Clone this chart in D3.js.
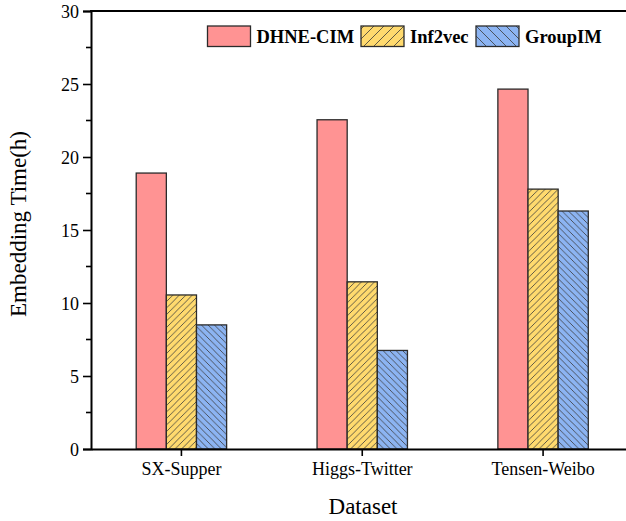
<!DOCTYPE html>
<html>
<head>
<meta charset="utf-8">
<script src="https://cdn.jsdelivr.net/npm/d3@7"></script>
<style>
  html, body { margin: 0; padding: 0; background: #fff; }
  svg { display: block; }
  text { font-family: "Liberation Serif", "Times New Roman", serif; fill: #000; }
</style>
</head>
<body>
<svg id="chart" width="626" height="521"></svg>
<script>
// Embedding time (hours) per dataset and method
const datasets = ["SX-Supper", "Higgs-Twitter", "Tensen-Weibo"];
const methods = ["DHNE-CIM", "Inf2vec", "GroupIM"];
const dhneCim = [18.9, 22.55, 24.65];
const inf2vec = [10.55, 11.45, 17.8];
const groupIm = [8.5, 6.75, 16.3];
const yTicks = [0, 5, 10, 15, 20, 25, 30];

const seriesValues = [dhneCim, inf2vec, groupIm];
const fills = ["#ff9393", "#ffda6e", "#8cb4f2"];
const hatch = [null, "fwd", "back"];

const svg = d3.select("#chart");
const plotLeft = 91, plotTop = 11, plotBottom = 449, plotRight = 633.5;

const x = d3.scaleBand().domain(datasets).range([plotLeft, plotRight]).padding(0);
const xInner = d3.scaleBand().domain(methods)
  .range([x.bandwidth() * 0.25, x.bandwidth() * 0.75]).padding(0);
const y = d3.scaleLinear().domain([0, 30]).range([plotBottom, plotTop]);

// hatch patterns
const defs = svg.append("defs");
function makePattern(id, dir, gap, color) {
  const p = defs.append("pattern").attr("id", id)
    .attr("patternUnits", "userSpaceOnUse")
    .attr("width", gap).attr("height", gap);
  p.append("rect").attr("width", gap).attr("height", gap).attr("fill", color);
  const d = dir === "fwd"
    ? `M0,${gap} L${gap},0 M${-gap / 2},${gap / 2} L${gap / 2},${-gap / 2} M${gap / 2},${gap * 1.5} L${gap * 1.5},${gap / 2}`
    : `M0,0 L${gap},${gap} M${-gap / 2},${gap / 2} L${gap / 2},${gap * 1.5} M${gap / 2},${-gap / 2} L${gap * 1.5},${gap / 2}`;
  p.append("path").attr("d", d).attr("stroke", "#3a3a3a").attr("stroke-width", 0.8).attr("fill", "none");
}
makePattern("hatch-fwd", "fwd", 6.5, fills[1]);
makePattern("hatch-back", "back", 6.5, fills[2]);
makePattern("leg-fwd", "fwd", 10, fills[1]);
makePattern("leg-back", "back", 10, fills[2]);

function fillFor(i, legend) {
  if (!hatch[i]) return fills[i];
  return `url(#${legend ? "leg" : "hatch"}-${hatch[i]})`;
}

// bars
methods.forEach((m, i) => {
  svg.append("g").selectAll("rect").data(datasets).join("rect")
    .attr("x", d => x(d) + xInner(m))
    .attr("width", xInner.bandwidth())
    .attr("y", (d, j) => y(seriesValues[i][j]))
    .attr("height", (d, j) => plotBottom - y(seriesValues[i][j]))
    .attr("fill", fillFor(i, false))
    .attr("stroke", "#2b2b2b").attr("stroke-width", 1.3);
});

// y axis
const yAxis = svg.append("g").attr("transform", `translate(${plotLeft},0)`)
  .call(d3.axisLeft(y).tickValues(yTicks).tickSize(8).tickPadding(4).tickFormat(d3.format("d")));
yAxis.attr("font-family", null).attr("font-size", null);
yAxis.select(".domain").attr("stroke", "#000").attr("stroke-width", 2);
yAxis.selectAll(".tick line").attr("stroke", "#000").attr("stroke-width", 1.6);
yAxis.selectAll("text").attr("font-size", 18).attr("dy", "0.35em");
// minor ticks
svg.append("g").selectAll("line").data(d3.range(2.5, 30, 5)).join("line")
  .attr("x1", plotLeft - 5).attr("x2", plotLeft)
  .attr("y1", d => y(d)).attr("y2", d => y(d))
  .attr("stroke", "#000").attr("stroke-width", 1.6);

// x axis
const xAxis = svg.append("g").attr("transform", `translate(0,${plotBottom})`)
  .call(d3.axisBottom(x).tickSize(7).tickPadding(6).tickSizeOuter(0));
xAxis.attr("font-family", null).attr("font-size", null);
xAxis.select(".domain").attr("stroke", "#000").attr("stroke-width", 2);
xAxis.selectAll(".tick line").attr("stroke", "#000").attr("stroke-width", 1.6);
xAxis.selectAll("text").attr("font-size", 18);

// top frame
svg.append("line").attr("x1", plotLeft - 1).attr("x2", 640).attr("y1", plotTop).attr("y2", plotTop)
  .attr("stroke", "#000").attr("stroke-width", 2);

// axis titles
svg.append("text").attr("x", 363).attr("y", 514).attr("text-anchor", "middle")
  .attr("font-size", 23).text("Dataset");
svg.append("text").attr("transform", `translate(26,224) rotate(-90)`)
  .attr("text-anchor", "middle").attr("font-size", 23).text("Embedding Time(h)");

// legend
const legendX = [207.5, 361, 476];
const legend = svg.append("g");
methods.forEach((m, i) => {
  legend.append("rect").attr("x", legendX[i]).attr("y", 26).attr("width", 43).attr("height", 20.5)
    .attr("fill", fillFor(i, true)).attr("stroke", "#2b2b2b").attr("stroke-width", 1.3);
  legend.append("text").attr("x", legendX[i] + 49).attr("y", 43)
    .attr("font-size", 18.5).attr("font-weight", "bold").text(m);
});
</script>
</body>
</html>
